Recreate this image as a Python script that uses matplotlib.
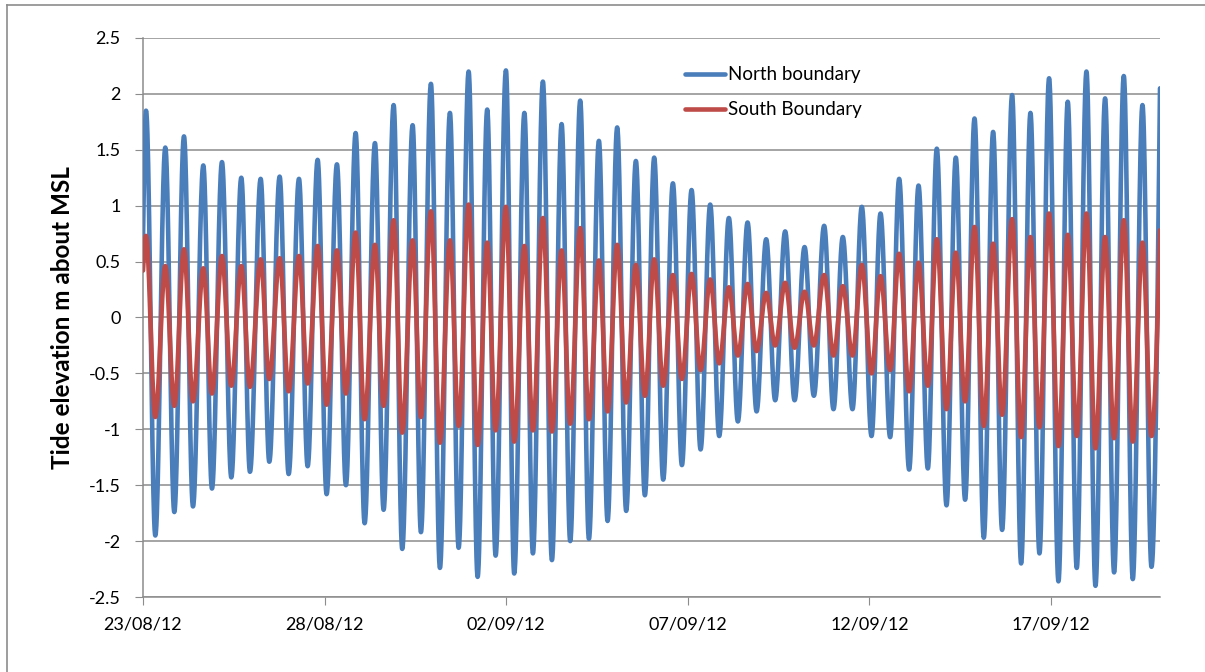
import numpy as np
import matplotlib
matplotlib.use("Agg")
import matplotlib.pyplot as plt
from matplotlib.lines import Line2D
import datetime as dt

# --- data: high/low water times (days after 23/08/12 00:00) and levels (m about MSL)
start_date = dt.datetime(2012, 8, 23)
end_day = 28.0

extreme_days = [
    0.083, 0.339, 0.614, 0.862, 1.128, 1.376, 1.660, 1.899, 2.174, 2.431,
    2.706, 2.945, 3.239, 3.477, 3.762, 4.010, 4.294, 4.533, 4.808, 5.055,
    5.339, 5.587, 5.854, 6.102, 6.386, 6.624, 6.900, 7.137, 7.423, 7.652,
    7.927, 8.175, 8.450, 8.690, 8.965, 9.213, 9.477, 9.708, 9.992, 10.220,
    10.500, 10.735, 11.010, 11.258, 11.525, 11.762, 12.037, 12.277, 12.552, 12.791,
    13.055, 13.303, 13.570, 13.818, 14.074, 14.322, 14.589, 14.837, 15.103, 15.351,
    15.616, 15.864, 16.130, 16.378, 16.645, 16.893, 17.157, 17.405, 17.680, 17.939,
    18.214, 18.470, 18.753, 19.010, 19.267, 19.533, 19.790, 20.057, 20.305, 20.570,
    20.818, 21.093, 21.352, 21.608, 21.855, 22.122, 22.378, 22.634, 22.893, 23.149,
    23.405, 23.653, 23.928, 24.176, 24.433, 24.681, 24.946, 25.204, 25.460, 25.708,
    25.975, 26.223, 26.488, 26.736, 27.003, 27.251, 27.517, 27.765,
]

north_start, north_end = 0.70, 2.05
north_extremes = [
    1.85, -1.95, 1.52, -1.74, 1.62, -1.69, 1.36, -1.53, 1.39, -1.43,
    1.25, -1.38, 1.24, -1.29, 1.26, -1.40, 1.24, -1.33, 1.41, -1.58,
    1.37, -1.50, 1.65, -1.84, 1.56, -1.72, 1.90, -2.07, 1.72, -1.92,
    2.09, -2.24, 1.83, -2.06, 2.20, -2.32, 1.86, -2.13, 2.21, -2.29,
    1.83, -2.11, 2.11, -2.17, 1.73, -2.00, 1.94, -1.98, 1.58, -1.82,
    1.70, -1.73, 1.40, -1.59, 1.43, -1.45, 1.20, -1.32, 1.14, -1.18,
    1.01, -1.06, 0.89, -0.93, 0.85, -0.84, 0.70, -0.74, 0.77, -0.74,
    0.63, -0.70, 0.82, -0.82, 0.72, -0.82, 0.99, -1.06, 0.93, -1.07,
    1.24, -1.36, 1.18, -1.35, 1.51, -1.68, 1.43, -1.63, 1.78, -1.97,
    1.66, -1.90, 1.99, -2.20, 1.83, -2.11, 2.14, -2.36, 1.93, -2.24,
    2.20, -2.40, 1.96, -2.28, 2.16, -2.34, 1.90, -2.23,
]

south_start, south_end = 0.42, 0.78
south_extremes = [
    0.73, -0.89, 0.46, -0.79, 0.61, -0.75, 0.44, -0.68, 0.55, -0.61,
    0.46, -0.62, 0.52, -0.55, 0.53, -0.66, 0.55, -0.59, 0.64, -0.78,
    0.60, -0.68, 0.76, -0.91, 0.65, -0.79, 0.87, -1.03, 0.69, -0.89,
    0.95, -1.12, 0.69, -0.97, 1.01, -1.14, 0.67, -1.01, 0.99, -1.11,
    0.64, -1.01, 0.89, -1.02, 0.60, -0.95, 0.80, -0.91, 0.51, -0.84,
    0.65, -0.76, 0.47, -0.70, 0.52, -0.61, 0.38, -0.55, 0.39, -0.47,
    0.34, -0.41, 0.27, -0.34, 0.30, -0.30, 0.22, -0.25, 0.31, -0.27,
    0.23, -0.25, 0.38, -0.34, 0.28, -0.34, 0.47, -0.50, 0.37, -0.47,
    0.57, -0.66, 0.49, -0.61, 0.70, -0.82, 0.58, -0.75, 0.81, -0.97,
    0.66, -0.87, 0.88, -1.07, 0.72, -0.98, 0.93, -1.15, 0.74, -1.06,
    0.93, -1.17, 0.72, -1.08, 0.87, -1.11, 0.67, -1.06,
]

y_ticks = [-2.5, -2, -1.5, -1, -0.5, 0, 0.5, 1, 1.5, 2, 2.5]
x_tick_labels = ["23/08/12", "28/08/12", "02/09/12", "07/09/12", "12/09/12", "17/09/12"]


def tide_curve(days, levels, first, last, t_end, n=40):
    """Smooth tidal trace through successive high/low waters (half-cosine limbs)."""
    t_out, v_out = [], []
    # opening limb: record start to first extreme
    s = np.linspace(0, 1, n)
    t_out.append(days[0] * s)
    v_out.append(first + (levels[0] - first) * np.sin(np.pi / 2 * s))
    for i in range(len(days) - 1):
        s = np.linspace(0, 1, n)[1:]
        t_out.append(days[i] + (days[i + 1] - days[i]) * s)
        v_out.append(levels[i] + (levels[i + 1] - levels[i]) * (1 - np.cos(np.pi * s)) / 2)
    # closing limb: last extreme to end of record
    s = np.linspace(0, 1, n)[1:]
    t_out.append(days[-1] + (t_end - days[-1]) * s)
    v_out.append(levels[-1] + (last - levels[-1]) * (1 - np.cos(np.pi / 2 * s)))
    t = np.concatenate(t_out)
    v = np.concatenate(v_out)
    return [start_date + dt.timedelta(days=float(x)) for x in t], v


t_n, v_n = tide_curve(extreme_days, north_extremes, north_start, north_end, end_day)
t_s, v_s = tide_curve(extreme_days, south_extremes, south_start, south_end, end_day)

plt.rcParams["font.family"] = ["Lato", "DejaVu Sans"]

fig = plt.figure(figsize=(12.05, 6.72), dpi=100)
ax = fig.add_axes([143 / 1205, 1 - 597 / 672, (1160 - 143) / 1205, (597 - 38) / 672])

grid_c = "#8c8c8c"
ax.plot(t_n, v_n, color="#4A7EBB", lw=3.3, solid_capstyle="round", label="North boundary", zorder=3)
ax.plot(t_s, v_s, color="#BE4B48", lw=3.3, solid_capstyle="round", label="South Boundary", zorder=4)

ax.set_ylim(-2.5, 2.5)
ax.set_xlim(start_date, start_date + dt.timedelta(days=end_day))
ax.set_yticks(y_ticks)
ax.set_yticklabels([f"{v:g}" for v in y_ticks])
xt = [start_date + dt.timedelta(days=5 * i) for i in range(len(x_tick_labels))]
ax.set_xticks(xt)
ax.set_xticklabels(x_tick_labels)

ax.grid(axis="y", color=grid_c, lw=1.1)
ax.set_axisbelow(True)
for side in ["top", "right"]:
    ax.spines[side].set_visible(False)
for side in ["left", "bottom"]:
    ax.spines[side].set_color(grid_c)
    ax.spines[side].set_linewidth(1.1)

ax.tick_params(axis="y", direction="out", length=6, color=grid_c, labelsize=13, pad=10, labelcolor="black")
ax.tick_params(axis="x", direction="out", length=6, color=grid_c, labelsize=13, pad=8, labelcolor="black")

ax.set_ylabel("Tide elevation m about MSL", fontsize=17.5, fontweight="bold", labelpad=11)

leg = ax.legend(loc="upper left", bbox_to_anchor=((676 - 143) / 1017, (597 - 57) / 559),
                frameon=False, fontsize=13.5, handlelength=2.1, handletextpad=0.2,
                labelspacing=0.95, borderpad=0)

# chart area border
fig.add_artist(Line2D([7.5 / 1205, 1.0], [1 - 5 / 672, 1 - 5 / 672], color="#8c8c8c", lw=1.2))
fig.add_artist(Line2D([7.5 / 1205, 7.5 / 1205], [0.0, 1 - 5 / 672], color="#8c8c8c", lw=1.2))

fig.savefig("out.png", dpi=100)
